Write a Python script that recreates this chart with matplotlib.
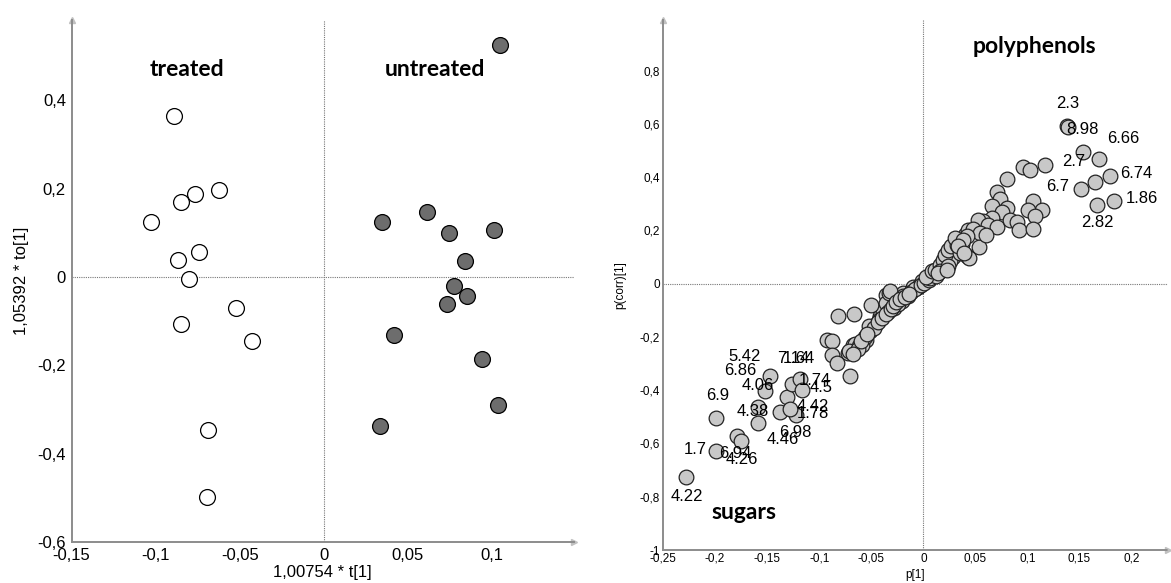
import matplotlib.pyplot as plt
from matplotlib.ticker import FuncFormatter

plt.rcParams["font.family"] = ["Liberation Sans", "DejaVu Sans"]

# ---- score plot (left) ----
treated_x = [-0.0888, -0.0767, -0.0624, -0.0848, -0.1029, -0.0743, -0.0864,
             -0.0799, -0.0521, -0.0848, -0.0427, -0.0691, -0.0696]
treated_y = [0.3645, 0.188, 0.196, 0.171, 0.1245, 0.057, 0.039,
             -0.0045, -0.070, -0.106, -0.1445, -0.346, -0.497]

untreated_x = [0.1051, 0.0349, 0.0617, 0.0745, 0.1016, 0.0841, 0.0776,
               0.0850, 0.0734, 0.0416, 0.0940, 0.1038, 0.0333]
untreated_y = [0.5245, 0.1245, 0.1464, 0.0996, 0.1057, 0.037, -0.020,
               -0.043, -0.0613, -0.131, -0.185, -0.289, -0.337]

score_xticks = [-0.15, -0.1, -0.05, 0, 0.05, 0.1]
score_yticks = [-0.6, -0.4, -0.2, 0, 0.2, 0.4]

# ---- loading plot (right) ----
load_x = [
    -0.2275, -0.1987, -0.1987, -0.1789, -0.1747, -0.1587, -0.1587, -0.1475,
    -0.1523, -0.1378, -0.1314, -0.1257, -0.1186, -0.1170, -0.1225, -0.1280,
    -0.0930, -0.0880, -0.0880, -0.0834, -0.0722, -0.0674, -0.0706, -0.0818,
    -0.0668, -0.0658, -0.0617, -0.0552, -0.0514, -0.0466, -0.0418, -0.0386,
    -0.0498, -0.0354, -0.0354, -0.0327, -0.0204, -0.0054, -0.0338, -0.0588,
    -0.0712, -0.0250, -0.0197, -0.0322, -0.0194, -0.0098, -0.0050, -0.0017,
    -0.0520, -0.0560, -0.0630, -0.0680, -0.0430, -0.0280, -0.0240, -0.0150,
    -0.0120, -0.0080,
    -0.0470, -0.0440, -0.0400, -0.0360, -0.0310, -0.0290, -0.0260, -0.0220,
    -0.0180, -0.0140, -0.0600, -0.0540, -0.0020, 0.0010,
    0.0050, 0.0090, 0.0130, 0.0180, 0.0220, 0.0280, 0.0300, 0.0250,
    0.0060, 0.0100, 0.0120, 0.0170, 0.0200, 0.0260, 0.0330, 0.0370,
    0.0030, 0.0079, 0.0110, 0.0159, 0.0190, 0.0207, 0.0238, 0.0270,
    0.0319, 0.0350, 0.0399, 0.0430, 0.0159, 0.0238, 0.0350, 0.0415,
    0.0959, 0.1023, 0.1167, 0.0805, 0.0703, 0.0735, 0.0655, 0.0799,
    0.0751, 0.1055, 0.1135, 0.1007, 0.1071, 0.0655, 0.0575, 0.0527,
    0.0623, 0.0703, 0.0831, 0.0895, 0.0920, 0.1055, 0.0473, 0.0543,
    0.0415, 0.0303, 0.0382, 0.0533, 0.0434, 0.0604, 0.0337, 0.0390,
    0.0142, 0.0230,
    0.1376, 0.1390, 0.1530, 0.1690, 0.1790, 0.1650, 0.1510, 0.1830, 0.1665,
]
load_y = [
    -0.727, -0.504, -0.629, -0.573, -0.592, -0.463, -0.523, -0.348,
    -0.404, -0.483, -0.427, -0.376, -0.358, -0.398, -0.4915, -0.470,
    -0.210, -0.2165, -0.266, -0.298, -0.260, -0.229, -0.348, -0.1226,
    -0.114, -0.225, -0.235, -0.213, -0.179, -0.154, -0.1226, -0.104,
    -0.079, -0.041, -0.072, -0.035, -0.064, -0.0125, -0.106, -0.229,
    -0.254, -0.057, -0.035, -0.029, -0.0476, -0.0125, -0.0125, 0.0088,
    -0.160, -0.200, -0.245, -0.265, -0.135, -0.090, -0.075, -0.045,
    -0.030, -0.020,
    -0.165, -0.145, -0.130, -0.112, -0.095, -0.082, -0.068, -0.058,
    -0.050, -0.038, -0.215, -0.190, -0.005, 0.004,
    0.015, 0.030, 0.035, 0.060, 0.080, 0.100, 0.120, 0.095,
    0.020, 0.038, 0.028, 0.050, 0.070, 0.085, 0.130, 0.150,
    0.027, 0.046, 0.0525, 0.0713, 0.090, 0.109, 0.1276, 0.140,
    0.146, 0.165, 0.184, 0.2026, 0.046, 0.065, 0.115, 0.1025,
    0.440, 0.428, 0.4465, 0.393, 0.346, 0.318, 0.293, 0.284,
    0.271, 0.309, 0.2777, 0.2777, 0.255, 0.2465, 0.234, 0.240,
    0.221, 0.213, 0.240, 0.230, 0.200, 0.205, 0.205, 0.190,
    0.1775, 0.1715, 0.165, 0.138, 0.0964, 0.184, 0.140, 0.115,
    0.040, 0.0525,
    0.594, 0.590, 0.494, 0.468, 0.406, 0.383, 0.356, 0.311, 0.296,
]

# variable labels (ppm) and where they sit
label_text = ["2.3", "8.98", "6.66", "2.7", "6.74", "6.7", "1.86", "2.82",
              "5.42", "6.86", "4.06", "6.9", "7.14", "1.64", "1.74", "4.5",
              "4.38", "4.42", "1.78", "6.98", "4.46", "1.7", "6.94", "4.26",
              "4.22"]
label_x = [0.1387, 0.1531, 0.1921, 0.1441, 0.2046, 0.1288, 0.2099, 0.1671,
           -0.1716, -0.1763, -0.1595, -0.1976, -0.1250, -0.1200, -0.1045, -0.0985,
           -0.1638, -0.1061, -0.1061, -0.1229, -0.1353, -0.2189, -0.1801, -0.1746,
           -0.2268]
label_y = [0.675, 0.578, 0.544, 0.458, 0.413, 0.364, 0.319, 0.229,
           -0.273, -0.325, -0.383, -0.419, -0.280, -0.280, -0.364, -0.390,
           -0.479, -0.462, -0.488, -0.560, -0.585, -0.623, -0.638, -0.660,
           -0.798]

load_xticks = [-0.25, -0.2, -0.15, -0.1, -0.05, 0, 0.05, 0.1, 0.15, 0.2]
load_yticks = [-1, -0.8, -0.6, -0.4, -0.2, 0, 0.2, 0.4, 0.6, 0.8]


def comma(v, pos):
    return f"{v:g}".replace(".", ",")


def style_axes(ax, size, pad):
    for s in ["top", "right"]:
        ax.spines[s].set_visible(False)
    for s in ["left", "bottom"]:
        ax.spines[s].set_color("#8c8c8c")
        ax.spines[s].set_linestyle((0, (1, 1)))
        ax.spines[s].set_linewidth(1.4)
    ax.tick_params(length=0, labelsize=size, pad=pad)
    ax.xaxis.set_major_formatter(FuncFormatter(comma))
    ax.yaxis.set_major_formatter(FuncFormatter(comma))
    ax.axhline(0, color="#777777", lw=0.8, ls=(0, (1, 1)), zorder=1)
    ax.axvline(0, color="#777777", lw=0.8, ls=(0, (1, 1)), zorder=1)
    # arrow heads at the axis ends
    ax.plot(1, 0, ">", transform=ax.transAxes, clip_on=False,
            color="#c0c0c0", ms=5)
    ax.plot(0, 1, "^", transform=ax.transAxes, clip_on=False,
            color="#c0c0c0", ms=5)


fig = plt.figure(figsize=(11.71, 5.83), dpi=100)

# left: scores
ax1 = fig.add_axes([0.0611, 0.0703, 0.4288, 0.8954])
ax1.scatter(treated_x, treated_y, s=130, facecolor="white",
            edgecolor="black", linewidth=0.9, zorder=3)
ax1.scatter(untreated_x, untreated_y, s=130, facecolor="#6d6d6d",
            edgecolor="black", linewidth=0.9, zorder=3)
ax1.set_xlim(-0.15, 0.1487)
ax1.set_ylim(-0.6, 0.582)
ax1.set_xticks(score_xticks)
ax1.set_yticks(score_yticks)
style_axes(ax1, 12, 4)
ax1.set_xlabel("1,00754 * t[1]", fontsize=12, labelpad=2)
ax1.set_ylabel("1,05392 * to[1]", fontsize=12, labelpad=6)
ax1.text(-0.0812, 0.469, "treated", family="Lato", weight="bold",
         fontsize=16.5, ha="center", va="center")
ax1.text(0.066, 0.469, "untreated", family="Lato", weight="bold",
         fontsize=16.5, ha="center", va="center")

# right: loadings
ax2 = fig.add_axes([0.5662, 0.0566, 0.4313, 0.909])
ax2.scatter(load_x, load_y, s=112, facecolor="#c8c8c8",
            edgecolor="#222222", linewidth=0.9, zorder=3)
for t, lx, ly in zip(label_text, label_x, label_y):
    ax2.text(lx, ly, t, fontsize=12, ha="center", va="center", zorder=4)
ax2.set_xlim(-0.25, 0.235)
ax2.set_ylim(-1, 0.99)
ax2.set_xticks(load_xticks)
ax2.set_yticks(load_yticks)
style_axes(ax2, 8.5, 2)
ax2.set_xlabel("p[1]", fontsize=8.5, labelpad=3)
ax2.set_ylabel("p(corr)[1]", fontsize=8.5, labelpad=10)
ax2.text(0.1067, 0.89, "polyphenols", family="Lato", weight="bold",
         fontsize=16.5, ha="center", va="center")
ax2.text(-0.1726, -0.86, "sugars", family="Lato", weight="bold",
         fontsize=16.5, ha="center", va="center")

fig.savefig("out.png", dpi=100)
